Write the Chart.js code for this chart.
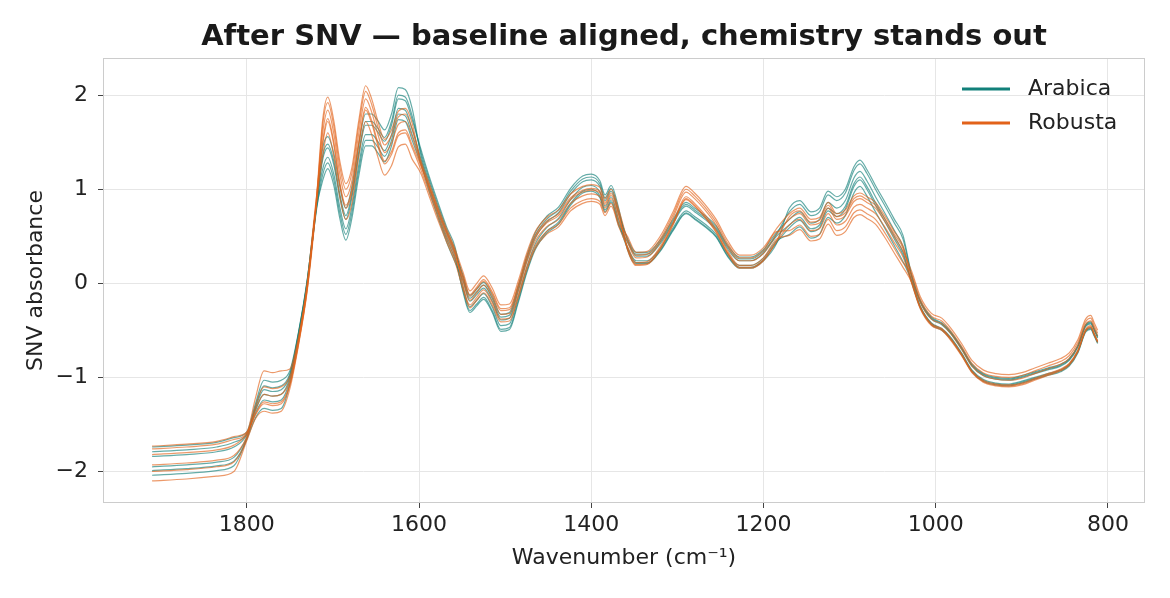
<!DOCTYPE html>
<html>
<head>
<meta charset="utf-8">
<script src="https://cdn.jsdelivr.net/npm/chart.js@4.4.1/dist/chart.umd.min.js"></script>
<style>
  html, body { margin: 0; padding: 0; background: #ffffff; }
  #wrap { width: 1170px; height: 598px; }
</style>
</head>
<body>
<div id="wrap"><canvas id="c" width="1170" height="598"></canvas></div>
<script>
// ---------------- data ----------------
const titleText = "After SNV \u2014 baseline aligned, chemistry stands out";
const xTitle = "Wavenumber (cm\u207B\u00B9)";
const yTitle = "SNV absorbance";
const classNames = ["Arabica", "Robusta"];
const xTickValues = [1800, 1600, 1400, 1200, 1000, 800];
const yTickValues = [-2, -1, 0, 1, 2];

const wavenumbers = [1910,1870,1835,1815,1800,1790,1780,1770,1760,1750,1740,1730,1720,1712,1706,1699,1692,1685,1678,1670,1662,1655,1648,1640,1632,1624,1616,1608,1598,1588,1578,1568,1558,1549,1541,1533,1525,1515,1505,1495,1485,1475,1465,1452,1438,1424,1410,1400,1390,1384,1377,1368,1358,1348,1335,1320,1305,1290,1280,1268,1255,1242,1228,1215,1200,1185,1170,1158,1145,1135,1125,1115,1105,1095,1088,1080,1070,1060,1048,1038,1028,1018,1005,993,983,970,958,945,930,915,900,885,870,855,845,835,826,820,816,812];

const arabica1 = [-1.74,-1.72,-1.69,-1.64,-1.58,-1.28,-1.03,-1.05,-1.03,-0.93,-0.52,0.03,0.78,1.35,1.48,1.30,0.95,0.72,0.95,1.40,1.72,1.72,1.65,1.55,1.72,2.00,1.98,1.78,1.40,1.10,0.83,0.57,0.35,0.06,-0.16,-0.09,-0.02,-0.16,-0.36,-0.34,-0.06,0.26,0.51,0.68,0.78,0.98,1.11,1.13,1.06,0.91,1.01,0.76,0.46,0.31,0.31,0.44,0.66,0.84,0.78,0.70,0.59,0.39,0.26,0.26,0.34,0.52,0.76,0.84,0.72,0.76,0.94,0.88,0.96,1.20,1.27,1.17,1.00,0.84,0.64,0.47,0.08,-0.19,-0.37,-0.43,-0.52,-0.69,-0.87,-0.97,-1.01,-1.02,-0.99,-0.95,-0.91,-0.87,-0.81,-0.67,-0.45,-0.42,-0.49,-0.57];
const arabica2 = [-2.04,-2.02,-1.99,-1.94,-1.66,-1.43,-1.33,-1.35,-1.33,-1.07,-0.58,-0.03,0.72,1.15,1.28,1.10,0.75,0.52,0.75,1.20,1.52,1.52,1.45,1.35,1.52,1.80,1.78,1.58,1.30,1.00,0.73,0.47,0.25,-0.07,-0.29,-0.22,-0.15,-0.29,-0.49,-0.47,-0.19,0.13,0.38,0.55,0.65,0.85,0.98,1.00,0.93,0.78,0.88,0.63,0.37,0.22,0.22,0.35,0.57,0.75,0.69,0.61,0.50,0.30,0.17,0.17,0.25,0.43,0.59,0.67,0.55,0.59,0.77,0.71,0.79,1.03,1.10,1.00,0.83,0.67,0.47,0.30,0.02,-0.25,-0.43,-0.49,-0.58,-0.75,-0.93,-1.03,-1.07,-1.08,-1.05,-1.01,-0.97,-0.93,-0.87,-0.73,-0.51,-0.48,-0.55,-0.63];
const arabica3 = [-1.84,-1.82,-1.79,-1.74,-1.61,-1.33,-1.13,-1.15,-1.13,-0.98,-0.54,0.01,0.76,1.09,1.22,1.04,0.69,0.46,0.69,1.14,1.46,1.46,1.39,1.29,1.46,1.74,1.72,1.52,1.27,0.97,0.70,0.44,0.22,0.03,-0.19,-0.12,-0.05,-0.19,-0.39,-0.37,-0.09,0.23,0.48,0.65,0.75,0.95,1.08,1.10,1.03,0.88,0.98,0.73,0.48,0.33,0.33,0.46,0.68,0.86,0.80,0.72,0.61,0.41,0.28,0.28,0.36,0.54,0.68,0.76,0.64,0.68,0.86,0.80,0.88,1.12,1.19,1.09,0.92,0.76,0.56,0.39,0.07,-0.20,-0.38,-0.44,-0.53,-0.70,-0.88,-0.98,-1.02,-1.03,-1.00,-0.96,-0.92,-0.88,-0.82,-0.68,-0.46,-0.43,-0.50,-0.58];
const arabica4 = [-1.95,-1.93,-1.90,-1.85,-1.64,-1.38,-1.24,-1.26,-1.24,-1.03,-0.56,-0.01,0.74,1.31,1.44,1.26,0.91,0.68,0.91,1.36,1.68,1.68,1.61,1.51,1.68,1.96,1.94,1.74,1.43,1.13,0.86,0.60,0.38,-0.03,-0.25,-0.18,-0.11,-0.25,-0.45,-0.43,-0.15,0.17,0.42,0.59,0.69,0.89,1.02,1.04,0.97,0.82,0.92,0.67,0.39,0.24,0.24,0.37,0.59,0.77,0.71,0.63,0.52,0.32,0.19,0.19,0.27,0.45,0.52,0.60,0.48,0.52,0.70,0.64,0.72,0.96,1.03,0.93,0.76,0.60,0.40,0.23,0.03,-0.24,-0.42,-0.48,-0.57,-0.74,-0.92,-1.02,-1.06,-1.07,-1.04,-1.00,-0.96,-0.92,-0.86,-0.72,-0.50,-0.47,-0.54,-0.62];
const arabica5 = [-1.79,-1.77,-1.74,-1.69,-1.60,-1.35,-1.18,-1.20,-1.18,-1.00,-0.55,0.00,0.75,1.43,1.56,1.38,1.03,0.80,1.03,1.48,1.80,1.80,1.73,1.63,1.80,2.08,2.06,1.86,1.37,1.07,0.80,0.54,0.32,0.09,-0.13,-0.06,0.01,-0.13,-0.33,-0.31,-0.03,0.29,0.54,0.71,0.81,1.01,1.14,1.16,1.09,0.94,1.04,0.79,0.36,0.21,0.21,0.34,0.56,0.74,0.68,0.60,0.49,0.29,0.16,0.16,0.24,0.42,0.80,0.88,0.76,0.80,0.98,0.92,1.00,1.24,1.31,1.21,1.04,0.88,0.68,0.51,0.09,-0.18,-0.36,-0.42,-0.51,-0.68,-0.86,-0.96,-1.00,-1.01,-0.98,-0.94,-0.90,-0.86,-0.80,-0.66,-0.44,-0.41,-0.48,-0.56];
const arabica6 = [-1.99,-1.97,-1.94,-1.89,-1.65,-1.31,-1.09,-1.11,-1.09,-0.96,-0.53,0.02,0.77,1.21,1.34,1.16,0.81,0.58,0.81,1.26,1.58,1.58,1.51,1.41,1.58,1.86,1.84,1.64,1.33,1.03,0.76,0.50,0.28,-0.09,-0.31,-0.24,-0.17,-0.31,-0.51,-0.49,-0.21,0.11,0.36,0.53,0.63,0.83,0.96,0.98,0.91,0.76,0.86,0.61,0.44,0.29,0.29,0.42,0.64,0.82,0.76,0.68,0.57,0.37,0.24,0.24,0.32,0.50,0.62,0.70,0.58,0.62,0.80,0.74,0.82,1.06,1.13,1.03,0.86,0.70,0.50,0.33,0.01,-0.26,-0.44,-0.50,-0.59,-0.76,-0.94,-1.04,-1.08,-1.09,-1.06,-1.02,-0.98,-0.94,-0.88,-0.74,-0.52,-0.49,-0.56,-0.64];

const robusta1 = [-2.10,-2.08,-2.05,-2.00,-1.67,-1.44,-1.36,-1.38,-1.36,-1.12,-0.66,-0.09,0.76,1.67,1.92,1.67,1.24,1.00,1.17,1.67,2.04,1.90,1.67,1.47,1.57,1.77,1.80,1.64,1.31,1.06,0.81,0.58,0.36,0.12,-0.08,0.00,0.08,-0.05,-0.23,-0.22,0.02,0.32,0.55,0.70,0.78,0.95,1.03,1.05,1.02,0.90,1.00,0.78,0.47,0.30,0.31,0.47,0.73,1.00,0.93,0.81,0.65,0.43,0.27,0.27,0.35,0.55,0.56,0.62,0.50,0.52,0.68,0.56,0.60,0.75,0.78,0.74,0.68,0.55,0.37,0.22,0.10,-0.17,-0.35,-0.40,-0.50,-0.67,-0.85,-0.95,-0.99,-1.00,-0.98,-0.93,-0.88,-0.83,-0.77,-0.63,-0.41,-0.37,-0.45,-0.53];
const robusta2 = [-1.76,-1.74,-1.71,-1.66,-1.59,-1.22,-0.93,-0.95,-0.93,-0.91,-0.57,0.00,0.85,1.47,1.72,1.47,1.04,0.80,0.97,1.47,1.84,1.70,1.47,1.27,1.37,1.57,1.60,1.44,1.21,0.96,0.71,0.48,0.26,0.06,-0.14,-0.06,0.02,-0.11,-0.29,-0.28,-0.04,0.26,0.49,0.64,0.72,0.89,0.97,0.99,0.96,0.84,0.94,0.72,0.37,0.20,0.21,0.37,0.63,0.90,0.83,0.71,0.55,0.33,0.17,0.17,0.25,0.45,0.71,0.77,0.65,0.67,0.83,0.71,0.75,0.90,0.93,0.89,0.83,0.70,0.52,0.37,0.02,-0.25,-0.43,-0.48,-0.58,-0.75,-0.93,-1.03,-1.07,-1.08,-1.06,-1.01,-0.96,-0.91,-0.85,-0.71,-0.49,-0.45,-0.53,-0.61];
const robusta3 = [-1.93,-1.91,-1.88,-1.83,-1.63,-1.35,-1.18,-1.20,-1.18,-1.03,-0.62,-0.05,0.80,1.73,1.98,1.73,1.30,1.06,1.23,1.73,2.10,1.96,1.73,1.53,1.63,1.83,1.86,1.70,1.28,1.03,0.78,0.55,0.33,-0.03,-0.23,-0.15,-0.07,-0.20,-0.38,-0.37,-0.13,0.17,0.40,0.55,0.63,0.80,0.88,0.90,0.87,0.75,0.85,0.63,0.50,0.33,0.34,0.50,0.76,1.03,0.96,0.84,0.68,0.46,0.30,0.30,0.38,0.58,0.74,0.80,0.68,0.70,0.86,0.74,0.78,0.93,0.96,0.92,0.86,0.73,0.55,0.40,0.07,-0.20,-0.38,-0.43,-0.53,-0.70,-0.88,-0.98,-1.02,-1.03,-1.01,-0.96,-0.91,-0.86,-0.80,-0.66,-0.44,-0.40,-0.48,-0.56];
const robusta4 = [-1.82,-1.80,-1.77,-1.72,-1.60,-1.39,-1.26,-1.28,-1.26,-1.07,-0.64,-0.07,0.78,1.35,1.60,1.35,0.92,0.68,0.85,1.35,1.72,1.58,1.35,1.15,1.25,1.45,1.48,1.32,1.17,0.92,0.67,0.44,0.22,-0.06,-0.26,-0.18,-0.10,-0.23,-0.41,-0.40,-0.16,0.14,0.37,0.52,0.60,0.77,0.85,0.87,0.84,0.72,0.82,0.60,0.39,0.22,0.23,0.39,0.65,0.92,0.85,0.73,0.57,0.35,0.19,0.19,0.27,0.47,0.51,0.57,0.45,0.47,0.63,0.51,0.55,0.70,0.73,0.69,0.63,0.50,0.32,0.17,0.01,-0.26,-0.44,-0.49,-0.59,-0.76,-0.94,-1.04,-1.08,-1.09,-1.07,-1.02,-0.97,-0.92,-0.86,-0.72,-0.50,-0.46,-0.54,-0.62];
const robusta5 = [-2.00,-1.98,-1.95,-1.90,-1.65,-1.31,-1.10,-1.12,-1.10,-0.99,-0.60,-0.03,0.82,1.59,1.84,1.59,1.16,0.92,1.09,1.59,1.96,1.82,1.59,1.39,1.49,1.69,1.72,1.56,1.27,1.02,0.77,0.54,0.32,0.02,-0.18,-0.10,-0.02,-0.15,-0.33,-0.32,-0.08,0.22,0.45,0.60,0.68,0.85,0.93,0.95,0.92,0.80,0.90,0.68,0.44,0.27,0.28,0.44,0.70,0.97,0.90,0.78,0.62,0.40,0.24,0.24,0.32,0.52,0.68,0.74,0.62,0.64,0.80,0.68,0.72,0.87,0.90,0.86,0.80,0.67,0.49,0.34,0.13,-0.14,-0.32,-0.37,-0.47,-0.64,-0.82,-0.92,-0.96,-0.97,-0.95,-0.90,-0.85,-0.80,-0.74,-0.60,-0.38,-0.34,-0.42,-0.50];
const robusta6 = [-1.73,-1.71,-1.68,-1.63,-1.58,-1.40,-1.28,-1.30,-1.28,-1.08,-0.64,-0.07,0.78,1.50,1.75,1.50,1.07,0.83,1.00,1.50,1.87,1.73,1.50,1.30,1.40,1.60,1.63,1.47,1.25,1.00,0.75,0.52,0.30,0.08,-0.12,-0.04,0.04,-0.09,-0.27,-0.26,-0.02,0.28,0.51,0.66,0.74,0.91,0.99,1.01,0.98,0.86,0.96,0.74,0.36,0.19,0.20,0.36,0.62,0.89,0.82,0.70,0.54,0.32,0.16,0.16,0.24,0.44,0.62,0.68,0.56,0.58,0.74,0.62,0.66,0.81,0.84,0.80,0.74,0.61,0.43,0.28,0.00,-0.27,-0.45,-0.50,-0.60,-0.77,-0.95,-1.05,-1.09,-1.10,-1.08,-1.03,-0.98,-0.93,-0.87,-0.73,-0.51,-0.47,-0.55,-0.63];

const arabicaSpectra = [arabica1, arabica2, arabica3, arabica4, arabica5, arabica6];
const robustaSpectra = [robusta1, robusta2, robusta3, robusta4, robusta5, robusta6];

// ---------------- styling ----------------
const FONT = "'DejaVu Sans', 'Liberation Sans', sans-serif";
const COLOR_ARABICA = '#12807a';
const COLOR_ROBUSTA = '#e2621a';
function rgba(hex, a) {
  const n = parseInt(hex.slice(1), 16);
  return `rgba(${(n >> 16) & 255},${(n >> 8) & 255},${n & 255},${a})`;
}

function toPoints(vals) {
  return wavenumbers.map((w, i) => ({ x: w, y: vals[i] }));
}

const datasets = [];
// Chart.js draws dataset 0 on top, so Robusta first (it sits on top in the reference)
robustaSpectra.forEach((s, i) => datasets.push({
  label: classNames[1] + ' ' + (i + 1), data: toPoints(s),
  borderColor: rgba(COLOR_ROBUSTA, 0.65), borderWidth: 1.2,
  pointRadius: 0, fill: false, cubicInterpolationMode: 'monotone'
}));
arabicaSpectra.forEach((s, i) => datasets.push({
  label: classNames[0] + ' ' + (i + 1), data: toPoints(s),
  borderColor: rgba(COLOR_ARABICA, 0.65), borderWidth: 1.2,
  pointRadius: 0, fill: false, cubicInterpolationMode: 'monotone'
}));

const framePlugin = {
  id: 'frame',
  afterDatasetsDraw(chart) {
    const { ctx, chartArea: a } = chart;
    ctx.save();
    ctx.strokeStyle = '#cccccc';
    ctx.lineWidth = 1;
    ctx.strokeRect(a.left + 0.5, a.top + 0.5, a.right - a.left - 1, a.bottom - a.top - 1);
    ctx.restore();
  }
};

const legendPlugin = {
  id: 'classLegend',
  afterDraw(chart) {
    const { ctx, chartArea: a } = chart;
    const entries = [[classNames[0], COLOR_ARABICA], [classNames[1], COLOR_ROBUSTA]];
    ctx.save();
    entries.forEach(([name, col], i) => {
      const y = a.top + 31 + i * 34;
      ctx.strokeStyle = col;
      ctx.lineWidth = 3;
      ctx.beginPath();
      ctx.moveTo(a.right - 183, y);
      ctx.lineTo(a.right - 135, y);
      ctx.stroke();
      ctx.fillStyle = '#222222';
      ctx.font = `22px ${FONT}`;
      ctx.textBaseline = 'middle';
      ctx.textAlign = 'left';
      ctx.fillText(name, a.right - 117, y);
    });
    ctx.restore();
  }
};

const minusFmt = v => (v < 0 ? '\u2212' + Math.abs(v) : String(v));

new Chart(document.getElementById('c'), {
  type: 'line',
  data: { datasets },
  plugins: [framePlugin, legendPlugin],
  options: {
    responsive: false,
    animation: false,
    devicePixelRatio: 1,
    layout: { padding: { left: 0, right: 25, top: 0, bottom: 0 } },
    plugins: {
      legend: { display: false },
      tooltip: { enabled: false },
      title: {
        display: true, text: titleText, fullSize: false,
        color: '#1a1a1a',
        font: { family: FONT, size: 29, weight: 'bold', lineHeight: 1.2 },
        padding: { top: 20.5, bottom: 2.7 }
      }
    },
    scales: {
      x: {
        type: 'linear', reverse: true, min: 757, max: 1967,
        afterFit(scale) { scale.height = 95; },
        afterBuildTicks(scale) { scale.ticks = xTickValues.map(v => ({ value: v })); },
        ticks: {
          padding: 4,
          color: '#222222', font: { family: FONT, size: 22 },
          callback: v => String(v), maxRotation: 0, autoSkip: false
        },
        grid: { color: '#e6e6e6', lineWidth: 1, tickLength: 5, tickColor: '#444444', drawTicks: true },
        border: { display: false },
        title: {
          display: true, text: xTitle, color: '#222222',
          font: { family: FONT, size: 22, lineHeight: 1.2 },
          padding: { top: 0, bottom: 27 }
        }
      },
      y: {
        type: 'linear', min: -2.335, max: 2.395,
        afterFit(scale) { scale.width = 103; },
        afterBuildTicks(scale) { scale.ticks = yTickValues.map(v => ({ value: v })); },
        ticks: {
          padding: 10,
          color: '#222222', font: { family: FONT, size: 22 },
          callback: minusFmt
        },
        grid: { color: '#e6e6e6', lineWidth: 1, tickLength: 5, tickColor: '#444444', drawTicks: true },
        border: { display: false },
        title: {
          display: true, text: yTitle, color: '#222222',
          font: { family: FONT, size: 22, lineHeight: 1.2 },
          padding: { top: 23, bottom: 0 }
        }
      }
    }
  }
});
</script>
</body>
</html>
